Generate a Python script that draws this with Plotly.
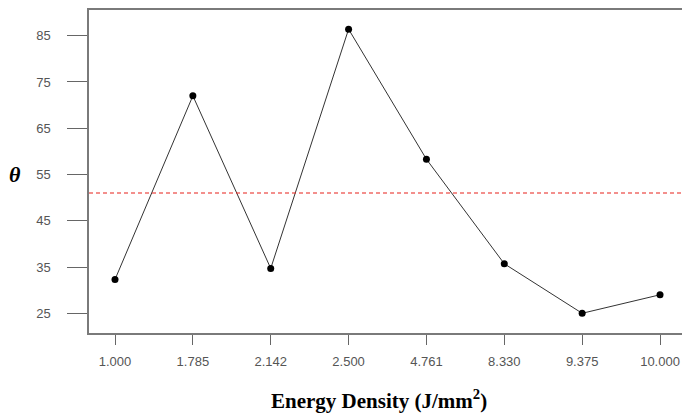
import plotly.graph_objects as go

# Data
categories = ["1.000", "1.785", "2.142", "2.500", "4.761", "8.330", "9.375", "10.000"]
theta_values = [32.3, 72.0, 34.7, 86.4, 58.3, 35.7, 25.0, 29.0]
reference_level = 51.0
y_ticks = [25, 35, 45, 55, 65, 75, 85]

W, H = 692, 413
L, R, T, B = 89, 0, 10, 80
pw = W - L - R
ph = H - T - B
step = 77.86  # pixels between categories
x0 = -26 / step

fig = go.Figure()

fig.add_shape(type="line", xref="paper", yref="y", x0=0, x1=1,
              y0=reference_level, y1=reference_level,
              line=dict(color="#e8201a", width=1.2, dash="4px,3px"))

fig.add_trace(go.Scatter(
    x=categories, y=theta_values, mode="lines+markers",
    line=dict(color="#333333", width=1),
    marker=dict(color="black", size=7),
    showlegend=False,
))

fig.update_layout(
    width=W, height=H,
    margin=dict(l=L, r=R, t=T, b=B, autoexpand=False),
    paper_bgcolor="white", plot_bgcolor="white",
    font=dict(family="Liberation Sans, Arial, sans-serif", size=13, color="#555555"),
    xaxis=dict(
        type="category", categoryorder="array", categoryarray=categories,
        range=[x0, x0 + pw / step],
        showgrid=False, zeroline=False,
        showline=True, linecolor="#7a7a7a", linewidth=1.5, mirror=True,
        ticks="outside", ticklen=10, tickcolor="#666666", tickwidth=1,
        ticklabelstandoff=6,
        tickfont=dict(size=13, color="#555555"),
    ),
    yaxis=dict(
        range=[20.74, 90.55],
        tickvals=y_ticks,
        showgrid=False, zeroline=False,
        showline=True, linecolor="#7a7a7a", linewidth=1.5,
        ticks="outside", ticklen=20, tickcolor="#666666", tickwidth=1,
        ticklabelstandoff=14,
        tickfont=dict(size=13, color="#555555"),
    ),
    annotations=[
        dict(text="<b><i>θ</i></b>", xref="paper", yref="paper",
             x=(15 - L) / pw, y=(H - B - 174) / ph, xanchor="center", yanchor="middle",
             showarrow=False, font=dict(family="Liberation Serif, Times New Roman, serif", size=22, color="black")),
        dict(text="<b>Energy Density (J/mm<sup>2</sup>)</b>", xref="paper", yref="paper",
             x=(379 - L) / pw, y=(H - B - 399) / ph, xanchor="center", yanchor="middle",
             showarrow=False, font=dict(family="Liberation Serif, Times New Roman, serif", size=21, color="black")),
    ],
)

fig.write_html("out.html", config={"displayModeBar": False},
               post_script="document.body.style.margin='0';document.body.style.overflow='hidden';")
